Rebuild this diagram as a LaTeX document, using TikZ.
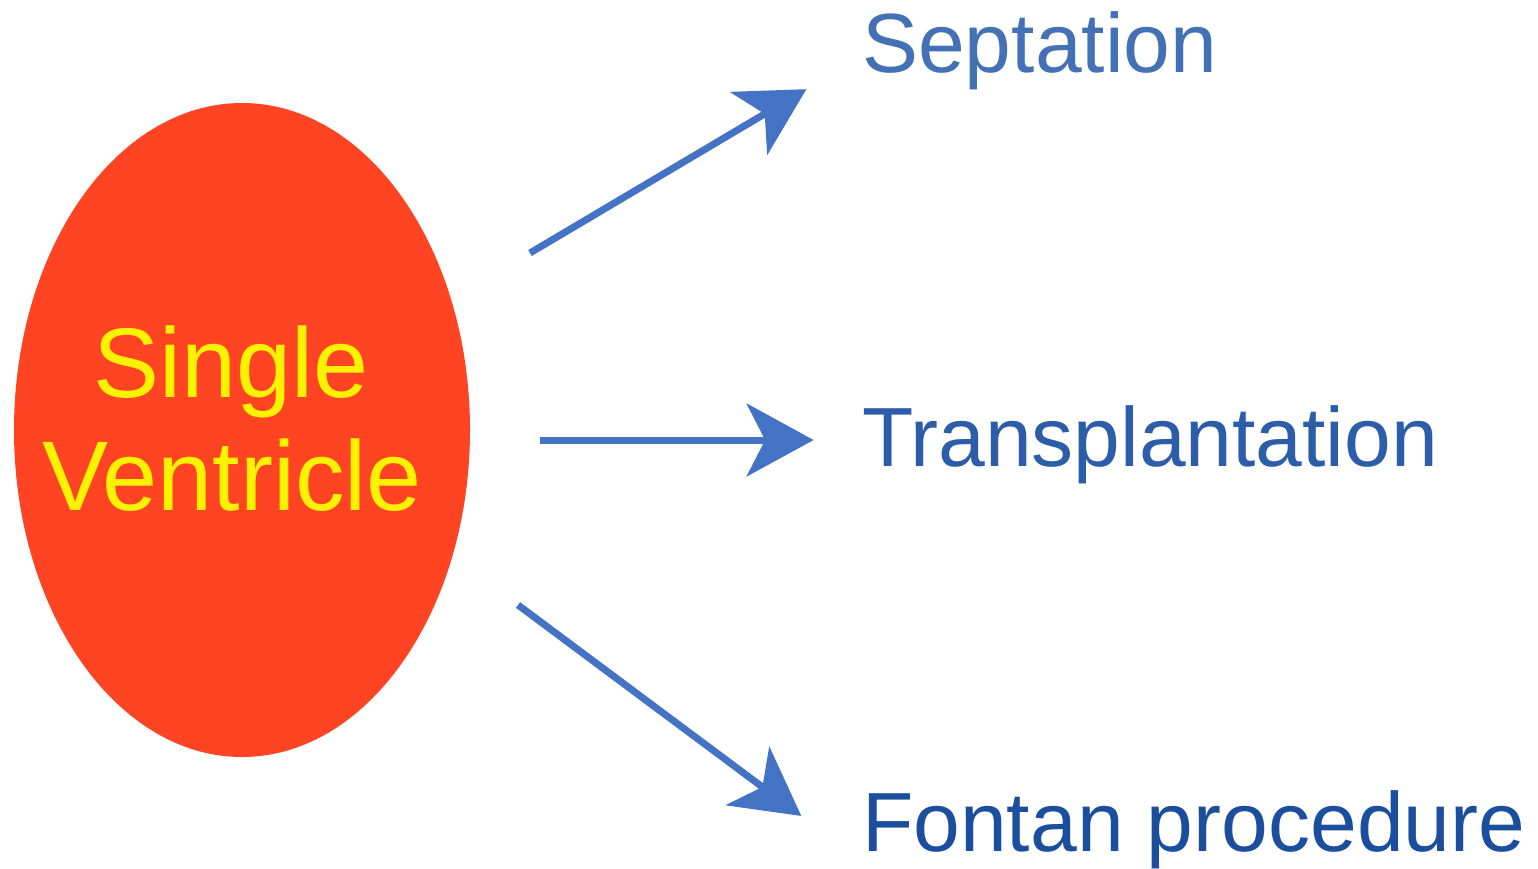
\documentclass[tikz,border=0pt]{standalone}
\usepackage{fontspec}
\setmainfont{Liberation Sans}
\usetikzlibrary{shapes.geometric,calc}
\definecolor{svred}{HTML}{FF4424}
\definecolor{svyellow}{HTML}{FFF200}
\definecolor{arrowblue}{HTML}{4472C4}
\definecolor{tblueA}{HTML}{4470B6}
\definecolor{tblueB}{HTML}{2C5DA8}
\definecolor{tblueC}{HTML}{1C4E9E}
\tikzset{
  outcome/.style={anchor=base west, inner sep=0pt, font=\fontsize{84}{84}\selectfont},
  svlabel/.style={anchor=base, inner sep=0pt, text=svyellow, font=\fontsize{99}{99}\selectfont},
  shaft/.style={draw=arrowblue, line width=7pt, shorten >=40pt},
  headfill/.style={fill=arrowblue, draw=arrowblue, line width=1.5pt, line join=miter},
}
\newcommand{\bluehead}[2]{%
  \path[headfill] (#2)
    -- ($($(#2)!64pt!(#1)$)!35pt!90:(#2)$)
    -- ($(#2)!46pt!(#1)$)
    -- ($($(#2)!64pt!(#1)$)!35pt!-90:(#2)$)
    -- cycle;}
\begin{document}
\begin{tikzpicture}[x=1pt,y=1pt]
\fill[white] (0,-868) rectangle (1538,0);
\useasboundingbox (0,-868) rectangle (1538,0);
\node[ellipse, fill=svred, minimum width=456pt, minimum height=654pt, inner sep=0pt] (sv) at (242,-430) {};
\node[svlabel] (single) at (231,-397) {Single};
\node[svlabel] (ventricle) at (232,-510) {Ventricle};
\node[outcome, text=tblueA] (sept) at (862,-72) {Septation};
\node[outcome, text=tblueB] (trans) at (862,-466) {Transplantation};
\node[outcome, text=tblueC] (fontan) at (862,-851) {Fontan procedure};
\coordinate (s1) at (530,-253);
\coordinate (e1) at (805,-90);
\coordinate (s2) at (540,-440);
\coordinate (e2) at (812,-440);
\coordinate (s3) at (518,-605);
\coordinate (e3) at (800,-815);
\draw[shaft] (s1) -- (e1);
\draw[shaft] (s2) -- (e2);
\draw[shaft] (s3) -- (e3);
\bluehead{s1}{e1}
\bluehead{s2}{e2}
\bluehead{s3}{e3}
\end{tikzpicture}
\end{document}
